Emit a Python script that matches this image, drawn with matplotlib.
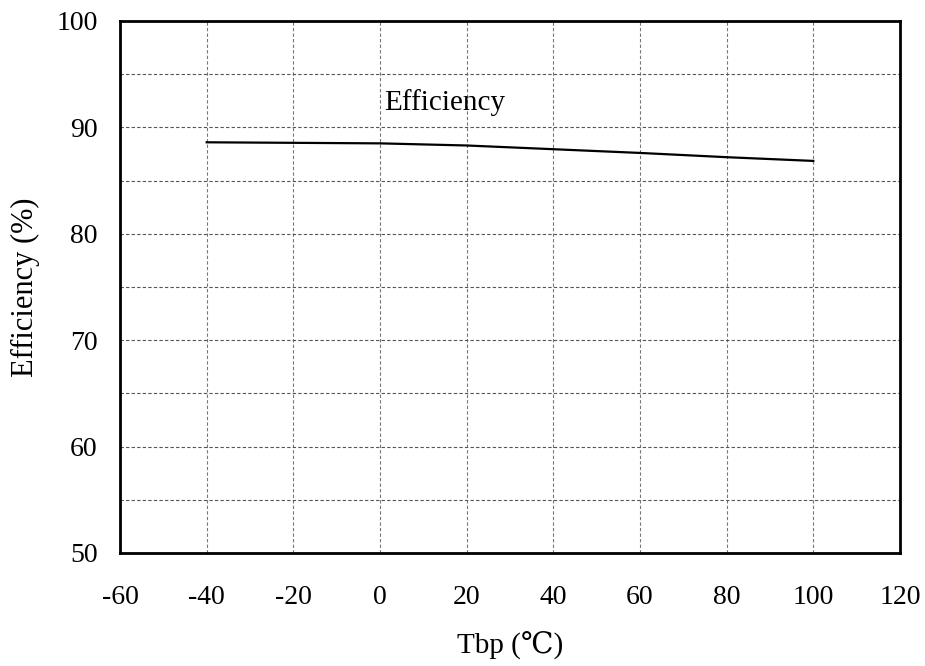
import matplotlib
matplotlib.use("Agg")
import matplotlib.pyplot as plt
from matplotlib.ticker import MultipleLocator

plt.rcParams['font.family'] = ['Liberation Serif', 'DejaVu Serif']
plt.rcParams['axes.unicode_minus'] = False

# efficiency vs baseplate temperature
temp_c = [-40, -20, 0, 20, 40, 60, 80, 100]
efficiency = [88.6, 88.55, 88.5, 88.3, 87.95, 87.6, 87.2, 86.85]

x_ticks = [-60, -40, -20, 0, 20, 40, 60, 80, 100, 120]
y_ticks = [50, 60, 70, 80, 90, 100]

fig = plt.figure(figsize=(9.25, 6.66), dpi=100)
ax = fig.add_axes([120 / 925, 1 - 553 / 666, 780 / 925, 532 / 666])

ax.plot(temp_c, efficiency, color='black', linewidth=1.6)

ax.set_xlim(-60, 120)
ax.set_ylim(50, 100)
ax.set_xticks(x_ticks)
ax.set_yticks(y_ticks)
ax.yaxis.set_minor_locator(MultipleLocator(5))

# dashed grid, including the half-decade lines on y
ax.grid(True, which='both', axis='y', linestyle=(0, (3, 2)), color='#555555', linewidth=0.8)
ax.grid(True, which='major', axis='x', linestyle=(0, (3, 2)), color='#777777', linewidth=0.8)

ax.tick_params(which='both', length=0)
ax.tick_params(axis='y', labelsize=20, pad=16)
ax.tick_params(axis='x', labelsize=20, pad=23)

for spine in ax.spines.values():
    spine.set_linewidth(2)
    spine.set_color('black')

ax.text(1, 92.3, 'Efficiency', fontsize=21, va='center', ha='left')

ax.set_xlabel('Tbp (\u2103)', fontsize=21, labelpad=16)
ax.set_ylabel('Efficiency (%)', fontsize=22, labelpad=12)

fig.savefig('out.png', dpi=100)
